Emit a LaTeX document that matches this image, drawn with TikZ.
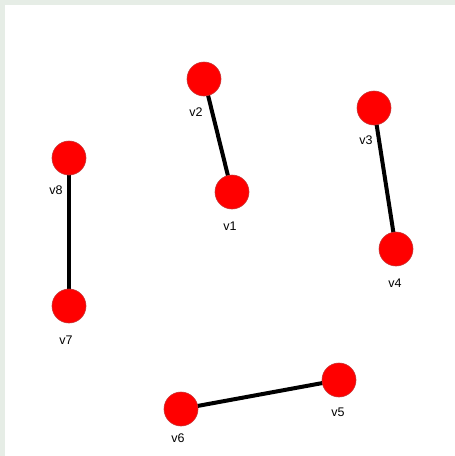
\documentclass[tikz,border=0pt]{standalone}
\usepackage{fontspec}
\setmainfont{Liberation Sans}
\definecolor{bandgreen}{HTML}{E6EDE6}
\definecolor{rimred}{HTML}{C83232}
\begin{document}
\begin{tikzpicture}[x=1pt,y=-1pt,
  vertex/.style={circle,fill=red,draw=rimred,line width=0.6pt,minimum size=34pt,inner sep=0pt},
  vlabel/.style={font=\fontsize{12.5}{14}\selectfont,inner sep=0pt},
  edge/.style={line width=4pt,black}]
  \useasboundingbox (0,0) rectangle (455,456);
  % frame band along top and left
  \fill[white] (0,0) rectangle (455,456);
  \fill[bandgreen] (0,0) rectangle (455,5);
  \fill[bandgreen] (0,0) rectangle (5,456);
  % vertex positions
  \coordinate (p1) at (232,192);
  \coordinate (p2) at (204,79);
  \coordinate (p3) at (374,108);
  \coordinate (p4) at (396,249);
  \coordinate (p5) at (339,380);
  \coordinate (p6) at (181,409);
  \coordinate (p7) at (69,306);
  \coordinate (p8) at (69,158);
  % edges under the vertices
  \draw[edge] (p2) -- (p1);
  \draw[edge] (p3) -- (p4);
  \draw[edge] (p8) -- (p7);
  \draw[edge] (p6) -- (p5);
  % vertices
  \foreach \i in {1,...,8} \node[vertex] (v\i) at (p\i) {};
  % labels
  \node[vlabel] (l1) at (230,226) {v1};
  \node[vlabel] (l2) at (196,112) {v2};
  \node[vlabel] (l3) at (366,140) {v3};
  \node[vlabel] (l4) at (395,283) {v4};
  \node[vlabel] (l5) at (338,412) {v5};
  \node[vlabel] (l6) at (178,438) {v6};
  \node[vlabel] (l7) at (66,340) {v7};
  \node[vlabel] (l8) at (56,190) {v8};
\end{tikzpicture}
\end{document}
